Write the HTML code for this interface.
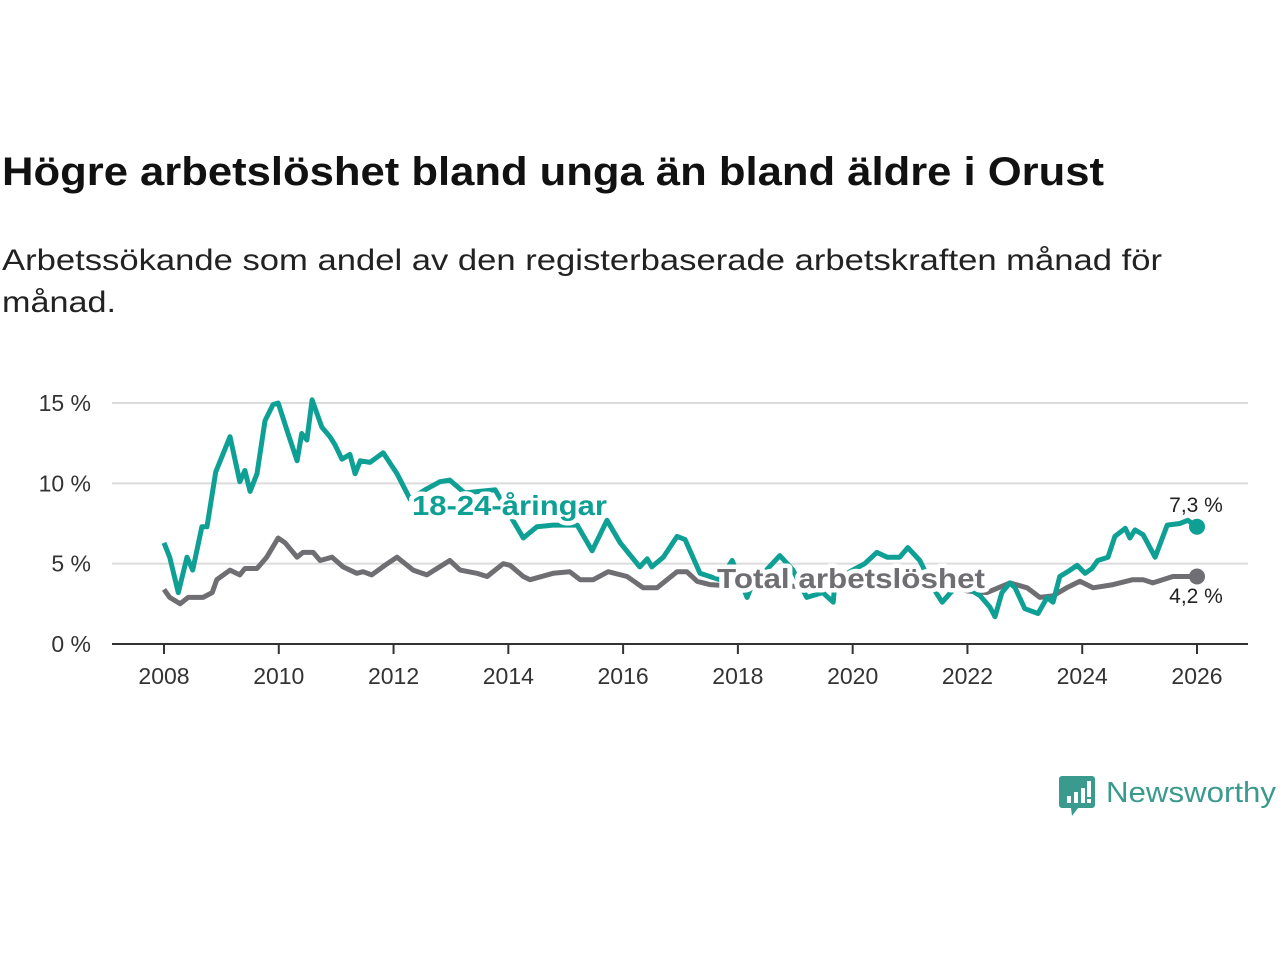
<!DOCTYPE html>
<html><head><meta charset="utf-8"><style>
html,body{margin:0;padding:0;background:#fff;}
svg{display:block;font-family:"Liberation Sans","DejaVu Sans",sans-serif;}
</style></head><body>
<svg id="chart" width="1280" height="960" viewBox="0 0 1280 960">
<text x="2" y="185" font-size="40" font-weight="bold" fill="#111" textLength="1102" lengthAdjust="spacingAndGlyphs">Högre arbetslöshet bland unga än bland äldre i Orust</text>
<text x="2" y="270" font-size="30" fill="#222" textLength="1160" lengthAdjust="spacingAndGlyphs">Arbetssökande som andel av den registerbaserade arbetskraften månad för</text>
<text x="2" y="312" font-size="30" fill="#222" textLength="114" lengthAdjust="spacingAndGlyphs">månad.</text>
<g id="grid"></g>
<g id="xaxis"></g>
<g id="series"></g>
<g id="labels"></g>
<g>
<path d="M1062 776 h30 a3 3 0 0 1 3 3 v26 a3 3 0 0 1 -3 3 h-14 l-6 8 l-1 -8 h-9 a3 3 0 0 1 -3 -3 v-26 a3 3 0 0 1 3 -3z" fill="#3a9a8d"/>
<rect x="1067" y="796" width="4" height="7" fill="#fff"/><rect x="1074" y="792" width="4" height="11" fill="#fff"/><rect x="1081" y="788" width="4" height="15" fill="#fff"/><rect x="1087" y="781" width="4" height="16" fill="#fff"/><rect x="1087" y="799" width="4" height="4" fill="#fff"/>
<text x="1106" y="802" font-size="29" fill="#3a9a8d" textLength="170" lengthAdjust="spacingAndGlyphs">Newsworthy</text>
</g>
</svg>
<script>
const yTicks=[0,5,10,15];
const yTickLabels=["0 %","5 %","10 %","15 %"];
const xTicks=[2008,2010,2012,2014,2016,2018,2020,2022,2024,2026];
const youthYears=[2008.0,2008.1,2008.25,2008.4,2008.5,2008.66,2008.75,2008.9,2009.15,2009.32,2009.41,2009.5,2009.62,2009.76,2009.9,2009.99,2010.16,2010.32,2010.4,2010.49,2010.58,2010.75,2010.89,2010.98,2011.1,2011.24,2011.33,2011.42,2011.59,2011.82,2012.06,2012.29,2012.55,2012.81,2012.98,2013.24,2013.5,2013.77,2014.03,2014.26,2014.5,2014.78,2015.2,2015.46,2015.72,2015.95,2016.29,2016.42,2016.5,2016.7,2016.94,2017.08,2017.34,2017.51,2017.69,2017.9,2018.16,2018.26,2018.47,2018.73,2018.96,2019.2,2019.48,2019.66,2019.69,2019.95,2020.21,2020.42,2020.6,2020.82,2020.96,2021.17,2021.4,2021.56,2021.78,2022.0,2022.22,2022.39,2022.48,2022.6,2022.74,2022.83,2023.0,2023.23,2023.39,2023.49,2023.61,2023.79,2023.91,2024.05,2024.17,2024.27,2024.45,2024.57,2024.75,2024.83,2024.92,2025.06,2025.27,2025.48,2025.7,2025.84,2026.0];
const youthValues=[6.3,5.4,3.2,5.4,4.6,7.3,7.3,10.7,12.9,10.1,10.8,9.5,10.6,13.9,14.9,15.0,13.1,11.4,13.1,12.7,15.2,13.5,12.9,12.4,11.5,11.8,10.6,11.4,11.3,11.9,10.6,9.0,9.6,10.1,10.2,9.4,9.5,9.6,8.0,6.6,7.3,7.4,7.4,5.8,7.7,6.3,4.8,5.3,4.8,5.4,6.7,6.5,4.4,4.2,4.0,5.2,2.9,3.8,4.5,5.5,4.6,2.9,3.2,2.6,3.8,4.5,5.0,5.7,5.4,5.4,6.0,5.2,3.5,2.6,3.5,3.5,3.0,2.3,1.7,3.2,3.8,3.5,2.2,1.9,2.9,2.6,4.2,4.6,4.9,4.4,4.7,5.2,5.4,6.7,7.2,6.6,7.1,6.8,5.4,7.4,7.5,7.7,7.3];
const totalYears=[2008.0,2008.1,2008.28,2008.42,2008.68,2008.84,2008.92,2009.15,2009.32,2009.41,2009.62,2009.79,2009.99,2010.11,2010.32,2010.42,2010.6,2010.72,2010.93,2011.12,2011.36,2011.47,2011.62,2011.85,2012.06,2012.34,2012.58,2012.98,2013.16,2013.45,2013.63,2013.91,2014.03,2014.26,2014.38,2014.78,2015.07,2015.25,2015.48,2015.74,2016.07,2016.35,2016.59,2016.94,2017.11,2017.29,2017.51,2018.0,2019.0,2020.0,2020.5,2021.0,2021.5,2022.0,2022.34,2022.74,2023.04,2023.26,2023.49,2023.73,2023.96,2024.19,2024.54,2024.88,2025.06,2025.23,2025.58,2026.0];
const totalValues=[3.4,2.9,2.5,2.9,2.9,3.2,4.0,4.6,4.3,4.7,4.7,5.4,6.6,6.3,5.4,5.7,5.7,5.2,5.4,4.8,4.4,4.5,4.3,4.9,5.4,4.6,4.3,5.2,4.6,4.4,4.2,5.0,4.9,4.2,4.0,4.4,4.5,4.0,4.0,4.5,4.2,3.5,3.5,4.5,4.5,3.9,3.7,3.6,3.6,4.0,4.4,4.3,3.8,3.3,3.2,3.8,3.5,2.9,3.0,3.5,3.9,3.5,3.7,4.0,4.0,3.8,4.2,4.2];
const seriesNames=["18-24-åringar","Total arbetslöshet"];
const lastLabels=["7,3 %","4,2 %"];

const NS="http://www.w3.org/2000/svg";
const X=v=>164+(v-2008)*(1197-164)/18;
const Y=v=>644-v*(644-403)/15;
function mk(tag,attrs,parent,txt){const e=document.createElementNS(NS,tag);for(const k in attrs)e.setAttribute(k,attrs[k]);if(txt!==undefined)e.textContent=txt;parent.appendChild(e);return e;}
const grid=document.getElementById('grid'),xa=document.getElementById('xaxis'),sg=document.getElementById('series'),lg=document.getElementById('labels');
yTicks.forEach((t,i)=>{
  if(t>0){const l=mk('line',{x1:112,x2:1248,y1:Y(t),y2:Y(t),stroke:'#dcdcdc','stroke-width':2},grid);
  
  }
  const tx=mk('text',{x:91,y:Y(t)+8,'font-size':23,fill:'#333','text-anchor':'end'},grid,yTickLabels[i]);
  
  
});
const ax=mk('line',{x1:112,x2:1248,y1:644,y2:644,stroke:'#333','stroke-width':2},xa);


xTicks.forEach(t=>{
  const tk=mk('line',{x1:X(t),x2:X(t),y1:644,y2:654,stroke:'#333','stroke-width':2},xa);
  
  
  const tx=mk('text',{x:X(t),y:684,'font-size':23,fill:'#333','text-anchor':'middle'},xa,String(t));
  
  
});
function line(xs,vs,color,name){
  const d=xs.map((x,i)=>(i?'L':'M')+X(x).toFixed(1)+' '+Y(vs[i]).toFixed(1)).join(' ');
  const p=mk('path',{d:d,fill:'none',stroke:color,'stroke-width':5,'stroke-linejoin':'round'},sg);
  
  
  const c=mk('circle',{cx:X(xs[xs.length-1]),cy:Y(vs[vs.length-1]),r:8,fill:color},sg);
  
  
}
line(totalYears,totalValues,'#6f6e73','total');
line(youthYears,youthValues,'#0fa095','youth');
function lab(x,y,txt,color,name,w){
  const t=mk('text',{x:x,y:y,'font-size':28,'font-weight':'bold',fill:color,stroke:'#fff','stroke-width':9,'paint-order':'stroke','stroke-linejoin':'round',textLength:w,lengthAdjust:'spacingAndGlyphs'},lg,txt);
  
  
}
lab(412,515,seriesNames[0],'#0fa095','youth-series-label',195);
lab(717,588,seriesNames[1],'#6f6e73','total-series-label',268);
const e1=mk('text',{x:1196,y:512,'font-size':21,fill:'#222','text-anchor':'middle'},lg,lastLabels[0]);


const e2=mk('text',{x:1196,y:603,'font-size':21,fill:'#222','text-anchor':'middle'},lg,lastLabels[1]);


</script>
</body></html>
